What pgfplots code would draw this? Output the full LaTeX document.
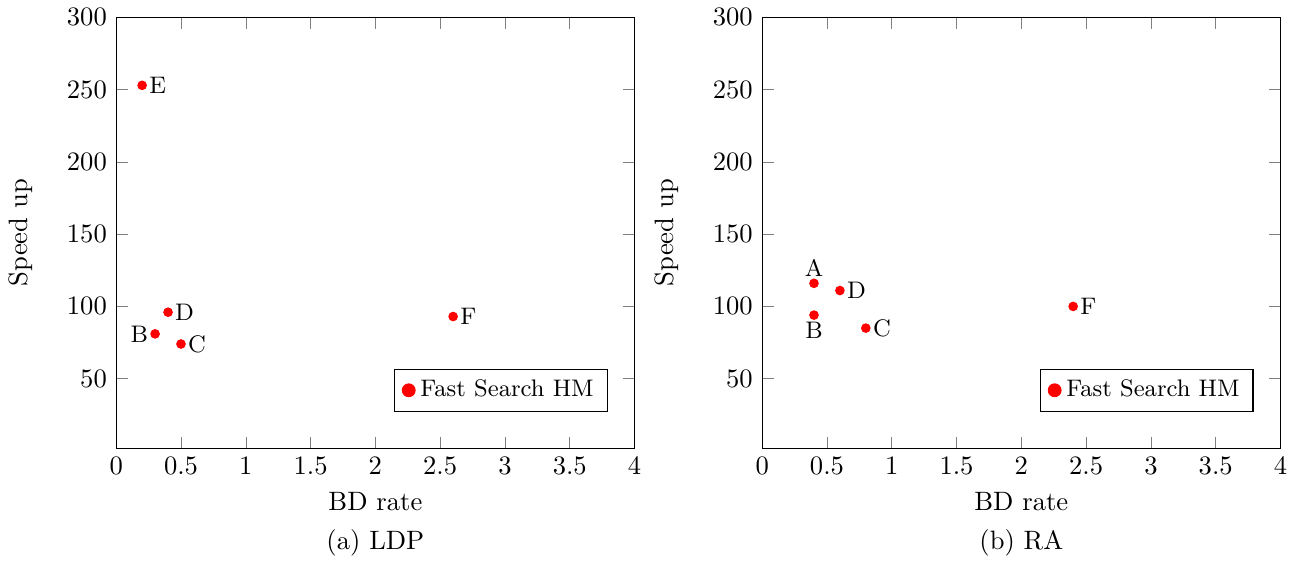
\documentclass[border=0pt]{standalone}
\usepackage{pgfplots}
\pgfplotsset{compat=1.18}

\pgfplotsset{
  speedup/.style={
    scale only axis,
    width=195pt, height=162pt,
    xmin=0, xmax=4, ymin=2, ymax=300,
    xtick={0,0.5,...,4},
    ytick={50,100,...,300},
    xlabel={BD rate}, ylabel={Speed up},
    ylabel shift=6pt,
    legend style={at={(0.948,0.084)}, anchor=south east, font=\small},
    legend cell align=left,
  },
  pts/.style={
    only marks, mark=*, color=red, mark size=1.6pt, forget plot,
    nodes near coords=\pgfplotspointmeta,
    point meta=explicit symbolic,
    every node near coord/.append style={anchor=#1, font=\small, color=black, inner sep=2.5pt},
  },
}

\begin{document}
\begin{tikzpicture}
\begin{axis}[speedup, clip=false]
\addlegendimage{only marks, mark=*, red, mark size=2.4pt}
\addlegendentry{Fast Search HM}
% labels on the right
\addplot[pts=west] coordinates {(0.2,253) [E] (0.4,96) [D] (0.5,74) [C] (2.6,93) [F]};
% label on the left
\addplot[pts=east] coordinates {(0.3,81) [B]};
\node at (axis description cs:0.5,-0.221) {(a) LDP};
\end{axis}

\begin{axis}[speedup, clip=false, at={(243pt,0)}]
\addlegendimage{only marks, mark=*, red, mark size=2.4pt}
\addlegendentry{Fast Search HM}
\addplot[pts=west] coordinates {(0.6,111) [D] (0.8,85) [C] (2.4,100) [F]};
\addplot[pts=south] coordinates {(0.4,116) [A]};
\addplot[pts=north] coordinates {(0.4,94) [B]};
\node at (axis description cs:0.5,-0.221) {(b) RA};
\end{axis}
\end{tikzpicture}
\end{document}
